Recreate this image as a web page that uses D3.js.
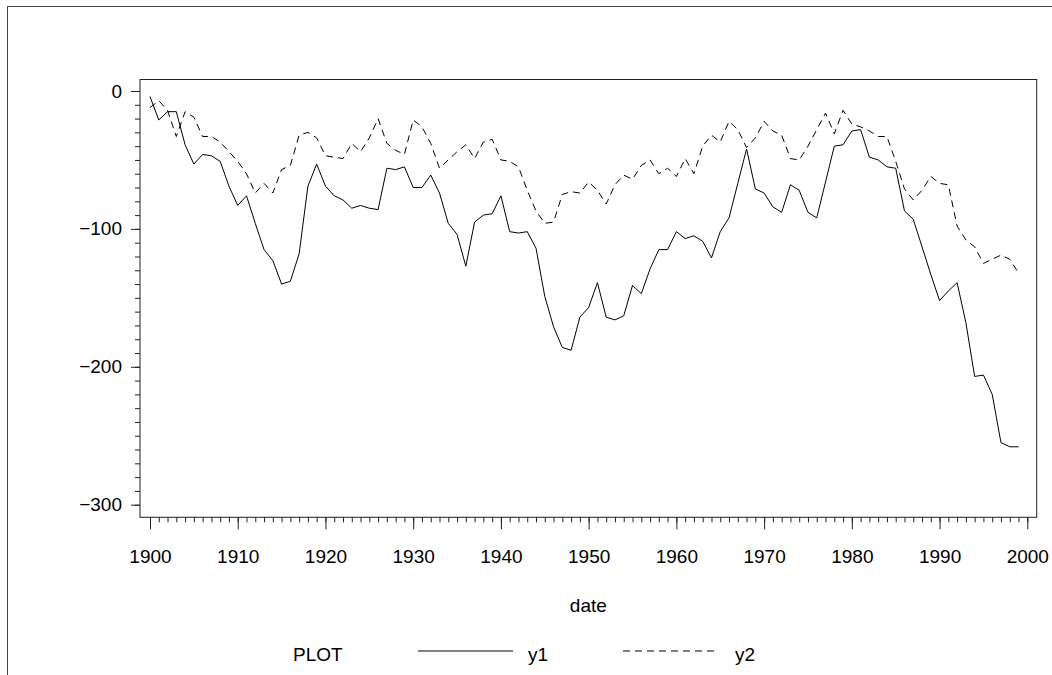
<!DOCTYPE html>
<html>
<head>
<meta charset="utf-8">
<script src="https://cdn.jsdelivr.net/npm/d3@7"></script>
<style>
  html, body { margin: 0; padding: 0; background: #fff; }
  svg text { font-family: "Liberation Sans", Arial, sans-serif; font-size: 19px; fill: #000; }
</style>
</head>
<body>
<div id="chart"></div>
<script>
const years = d3.range(1900, 2000);

const y1 = [
  -4, -21, -15, -15, -39, -53, -46, -47, -51, -69,
  -83, -76, -96, -115, -123, -140, -138, -118, -69, -53,
  -69, -76, -79, -85, -83, -85, -86, -56, -57, -55,
  -70, -70, -61, -74, -96, -104, -127, -95, -90, -89,
  -76, -102, -103, -102, -114, -149, -171, -186, -188, -164,
  -157, -139, -164, -166, -163, -141, -147, -129, -115, -115,
  -102, -107, -105, -109, -121, -102, -92, -67, -42, -71,
  -74, -84, -88, -68, -72, -88, -92, -66, -40, -39,
  -29, -28, -48, -50, -55, -56, -87, -93, -113, -133,
  -152, -145, -139, -168, -207, -206, -220, -255, -258, -258
];

const y2 = [
  -12, -7, -14, -33, -15, -19, -33, -33, -37, -44,
  -51, -60, -74, -67, -74, -57, -54, -32, -30, -34,
  -47, -48, -49, -38, -44, -34, -20, -38, -43, -46,
  -21, -26, -38, -56, -50, -44, -39, -49, -37, -35,
  -50, -51, -55, -72, -87, -96, -95, -75, -73, -74,
  -66, -72, -82, -68, -61, -64, -54, -50, -60, -56,
  -62, -49, -60, -40, -32, -37, -22, -28, -41, -34,
  -22, -29, -32, -49, -50, -40, -28, -16, -31, -14,
  -24, -26, -29, -33, -33, -51, -71, -79, -72, -62,
  -67, -68, -98, -108, -113, -125, -122, -119, -122, -132
];

const xMajor = d3.range(1900, 2001, 10);
const xMinor = d3.range(1900, 2001, 1);
const yMajor = [0, -100, -200, -300];
const yMinor = d3.range(0, -301, -10);

const seriesNames = ["y1", "y2"];

const width = 1052, height = 675;
const box = { left: 140, top: 79.5, right: 1036.7, bottom: 517.3 };

const svg = d3.select("#chart")
  .append("svg")
  .attr("width", width)
  .attr("height", height);

// outer frame (runs off the right and bottom edges)
svg.append("rect")
  .attr("x", 7.5).attr("y", 6.5)
  .attr("width", 1100).attr("height", 720)
  .attr("fill", "none")
  .attr("stroke", "#444")
  .attr("stroke-width", 1);

const x = d3.scaleLinear().domain([1900, 2000]).range([150, 1027.3]);
const y = d3.scaleLinear().domain([0, -300]).range([91, 504.7]);

// plot box
svg.append("rect")
  .attr("x", box.left).attr("y", box.top)
  .attr("width", box.right - box.left)
  .attr("height", box.bottom - box.top)
  .attr("fill", "none")
  .attr("stroke", "#222")
  .attr("stroke-width", 1);

// x axis: minor then major
svg.append("g")
  .attr("transform", `translate(0,${box.bottom})`)
  .call(d3.axisBottom(x).tickValues(xMinor).tickSize(5).tickSizeOuter(0).tickFormat(""))
  .call(g => g.select(".domain").remove());

svg.append("g")
  .attr("transform", `translate(0,${box.bottom})`)
  .call(d3.axisBottom(x).tickValues(xMajor).tickSize(12).tickSizeOuter(0).tickPadding(20).tickFormat(d3.format("d")))
  .call(g => g.select(".domain").remove())
  .call(g => g.selectAll("text").attr("font-size", null).attr("font-family", null));

// y axis: minor then major
svg.append("g")
  .attr("transform", `translate(${box.left},0)`)
  .call(d3.axisLeft(y).tickValues(yMinor).tickSize(5).tickSizeOuter(0).tickFormat(""))
  .call(g => g.select(".domain").remove());

svg.append("g")
  .attr("transform", `translate(${box.left},0)`)
  .call(d3.axisLeft(y).tickValues(yMajor).tickSize(9).tickSizeOuter(0).tickPadding(9)
    .tickFormat(d => d < 0 ? "\u2212" + Math.abs(d) : String(d)))
  .call(g => g.select(".domain").remove())
  .call(g => g.selectAll("text").attr("font-size", null).attr("font-family", null));

svg.selectAll(".tick line").attr("stroke", "#222");

// lines
const line = d3.line()
  .x((d, i) => x(years[i]))
  .y(d => y(d));

svg.append("path")
  .datum(y1)
  .attr("d", line)
  .attr("fill", "none")
  .attr("stroke", "#000")
  .attr("stroke-width", 1);

svg.append("path")
  .datum(y2)
  .attr("d", line)
  .attr("fill", "none")
  .attr("stroke", "#000")
  .attr("stroke-width", 1)
  .attr("stroke-dasharray", "7,5");

// axis label
svg.append("text")
  .attr("x", (box.left + box.right) / 2)
  .attr("y", 612)
  .attr("text-anchor", "middle")
  .text("date");

// legend
const legendY = 651;
svg.append("text")
  .attr("x", 293)
  .attr("y", legendY + 10)
  .text("PLOT");

const legendItems = [
  { name: seriesNames[0], x0: 418, x1: 513, tx: 528, dash: null },
  { name: seriesNames[1], x0: 623, x1: 718, tx: 735, dash: "7,5" }
];

legendItems.forEach(d => {
  svg.append("line")
    .attr("x1", d.x0).attr("x2", d.x1)
    .attr("y1", legendY).attr("y2", legendY)
    .attr("stroke", "#000")
    .attr("stroke-width", 1)
    .attr("stroke-dasharray", d.dash);
  svg.append("text")
    .attr("x", d.tx)
    .attr("y", legendY + 10)
    .text(d.name);
});
</script>
</body>
</html>
